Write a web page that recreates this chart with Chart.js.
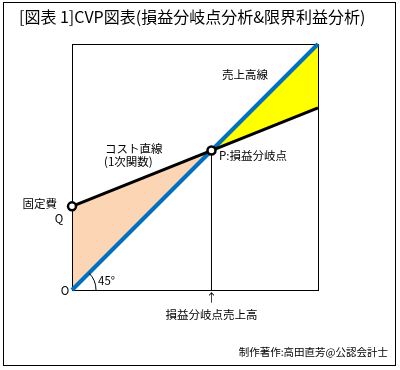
<!DOCTYPE html>
<html>
<head>
<meta charset="utf-8">
<script src="https://cdn.jsdelivr.net/npm/chart.js@4"></script>
<style>
  html, body { margin: 0; padding: 0; background: #fff; }
  #wrap { width: 400px; height: 370px; }
</style>
</head>
<body>
<div id="wrap"><canvas id="cvp"></canvas></div>
<script>
// values (both axes 0..100, 45° sales line)
const salesLine = [{ x: 0, y: 0 }, { x: 100, y: 100 }];
const costLine = [{ x: 0, y: 34 }, { x: 100, y: 74 }];
const keyPoints = [{ x: 0, y: 34 }, { x: 56.7, y: 56.7 }];   // Q, P
const lossArea = [{ x: 0, y: 0 }, { x: 0, y: 34 }, { x: 56.7, y: 56.7 }, { x: 0, y: 0 }];
const profitArea = [{ x: 56.7, y: 56.7 }, { x: 100, y: 100 }, { x: 100, y: 74 }, { x: 56.7, y: 56.7 }];
const dropLine = [{ x: 56.7, y: 0 }, { x: 56.7, y: 56.7 }];

const titleText = '[図表 1]CVP図表(損益分岐点分析&限界利益分析)';
const creditText = '制作著作:高田直芳@公認会計士';

const FONT = '"Noto Sans CJK JP", "Noto Sans", sans-serif';

// box round the plot, drawn right after the fills so lines sit on top of it
const boxPlugin = {
    id: 'box',
    afterDatasetDraw(chart, args) {
        if (args.index !== 4) return;
        const { ctx, chartArea: a } = chart;
        ctx.save();
        ctx.strokeStyle = '#000';
        ctx.lineWidth = 1;
        ctx.strokeRect(a.left + 0.5, a.top + 0.5, a.right - a.left, a.bottom - a.top);
        ctx.restore();
    },
    afterDraw(chart) {
        const { ctx } = chart;
        const x = chart.scales.x, y = chart.scales.y;
        ctx.save();

        // outer frame
        ctx.strokeStyle = '#000';
        ctx.lineWidth = 1;
        ctx.strokeRect(3.5, 2.5, 392, 363);

        // 45° arc at the origin
        ctx.beginPath();
        ctx.arc(x.getPixelForValue(0), y.getPixelForValue(0), 24, -Math.PI / 4, 0);
        ctx.stroke();

        ctx.fillStyle = '#000';
        ctx.textBaseline = 'middle';

        ctx.font = '16px ' + FONT;
        ctx.textAlign = 'left';
        ctx.fillText(titleText, 19, 17);

        ctx.font = '11.5px ' + FONT;
        ctx.textAlign = 'right';
        ctx.fillText('固定費', 57, 204);
        ctx.textAlign = 'center';
        ctx.fillText('Q', 59, 219);
        ctx.fillText('O', 65, 291);
        ctx.textAlign = 'left';
        ctx.fillText('45°', 98, 281);
        ctx.fillText('売上高線', 222, 75);
        ctx.fillText('コスト直線', 105, 149);
        ctx.fillText('(1次関数)', 104, 162);
        ctx.fillText('P:損益分岐点', 219, 156);

        const px = x.getPixelForValue(keyPoints[1].x);
        ctx.textAlign = 'center';
        ctx.fillText('↑', px, 298);
        ctx.fillText('損益分岐点売上高', px, 315);

        ctx.font = '10.5px ' + FONT;
        ctx.textAlign = 'right';
        ctx.fillText(creditText, 388, 352);

        ctx.restore();
    }
};

new Chart(document.getElementById('cvp').getContext('2d'), {
    type: 'scatter',
    data: {
        datasets: [
            {   // 0: Q and P markers
                data: keyPoints,
                showLine: false,
                pointRadius: 4,
                pointBorderWidth: 2.5,
                pointBackgroundColor: '#fff',
                pointBorderColor: '#000',
                clip: false
            },
            {   // 1: cost line
                data: costLine,
                showLine: true,
                borderColor: '#000',
                borderWidth: 3,
                pointRadius: 0
            },
            {   // 2: sales line
                data: salesLine,
                showLine: true,
                borderColor: '#0070C0',
                borderWidth: 4,
                pointRadius: 0,
                clip: 3
            },
            {   // 3: drop line from P
                data: dropLine,
                showLine: true,
                borderColor: '#000',
                borderWidth: 1,
                pointRadius: 0
            },
            {   // 4: profit area
                data: profitArea,
                showLine: true,
                fill: 'shape',
                backgroundColor: '#FFFF00',
                borderWidth: 0,
                pointRadius: 0
            },
            {   // 5: loss area
                data: lossArea,
                showLine: true,
                fill: 'shape',
                backgroundColor: '#FCD5B4',
                borderWidth: 0,
                pointRadius: 0
            }
        ]
    },
    options: {
        responsive: true,
        maintainAspectRatio: false,
        animation: false,
        layout: { padding: { left: 72, top: 44, right: 82, bottom: 80 } },
        scales: {
            x: { type: 'linear', min: 0, max: 100, display: false },
            y: { type: 'linear', min: 0, max: 100, display: false }
        },
        plugins: {
            legend: { display: false },
            tooltip: { enabled: false },
            title: { display: false }
        }
    },
    plugins: [boxPlugin]
});
</script>
</body>
</html>
